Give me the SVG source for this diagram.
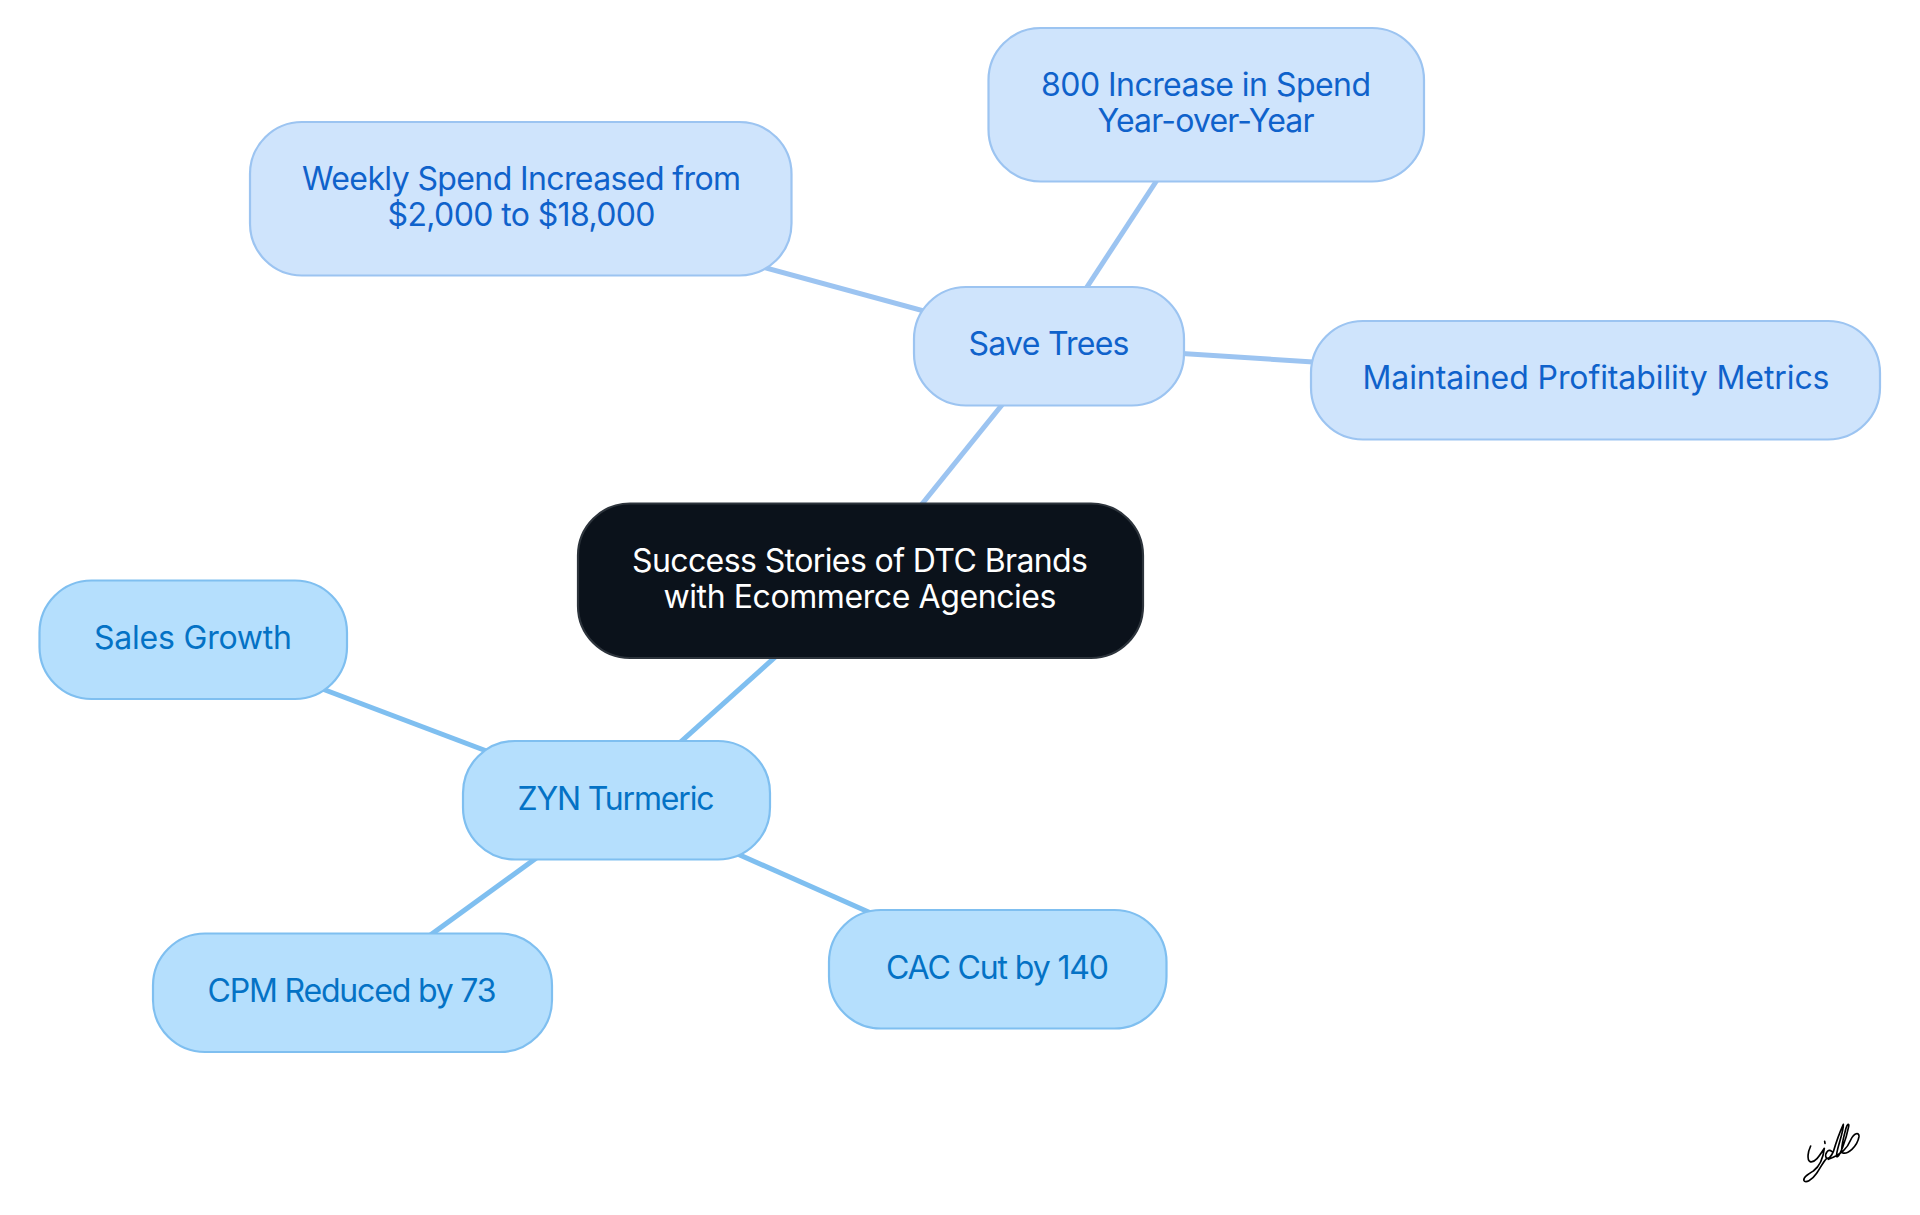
<svg xmlns="http://www.w3.org/2000/svg" width="1920" height="1215" viewBox="0 0 1920 1215">
<style>
text{font-family:"Inter","Noto Sans","Liberation Sans",sans-serif;font-size:32px;text-anchor:middle}
.a rect{fill:#cfe4fc;stroke:#9cc4f1;stroke-width:2.2}
.a text{fill:#0f62cb}
.b rect{fill:#b5dffd;stroke:#7fbff0;stroke-width:2.2}
.b text{fill:#0472c5}
#root rect{fill:#0b121b;stroke:#2d343c;stroke-width:2.2}
#root text{fill:#fff}
#connectors line{stroke-width:5}
.ca{stroke:#9cc4f1}.cb{stroke:#7fbff0}
</style>
<g id="connectors">
<line class="ca" x1="860" y1="581" x2="1030" y2="370"/>
<line class="ca" x1="1049" y1="345" x2="1180" y2="145"/>
<line class="ca" x1="1049" y1="345" x2="700" y2="250"/>
<line class="ca" x1="1049" y1="345" x2="1596" y2="380"/>
<line class="cb" x1="860" y1="581" x2="616" y2="800"/>
<line class="cb" x1="616" y1="800" x2="193" y2="640"/>
<line class="cb" x1="616" y1="800" x2="352" y2="992"/>
<line class="cb" x1="616" y1="800" x2="997" y2="969"/>
</g>
<g id="root"><rect x="578" y="503.500" width="565" height="154.500" rx="52"/><text x="860" y="571.500" textLength="456">Success Stories of DTC Brands</text><text x="860" y="607.500" textLength="393">with Ecommerce Agencies</text></g>
<g id="save-trees" class="a"><rect x="914" y="287" width="270" height="118.500" rx="52"/><text x="1049" y="354.500" textLength="161">Save Trees</text></g>
<g id="spend-yoy" class="a"><rect x="988.500" y="28" width="435.500" height="153.500" rx="52"/><text x="1206" y="95.500" textLength="330">800 Increase in Spend</text><text x="1206" y="131.500" textLength="217">Year-over-Year</text></g>
<g id="weekly" class="a"><rect x="250" y="122" width="541.500" height="153.500" rx="52"/><text x="521.500" y="189.500" textLength="439">Weekly Spend Increased from</text><text x="521.500" y="225.500" textLength="268">$2,000 to $18,000</text></g>
<g id="profit" class="a"><rect x="1311" y="321" width="569" height="118.500" rx="52"/><text x="1596" y="388.500" textLength="467">Maintained Profitability Metrics</text></g>
<g id="zyn" class="b"><rect x="463" y="741" width="307" height="118.500" rx="52"/><text x="616" y="809.500" textLength="197">ZYN Turmeric</text></g>
<g id="sales" class="b"><rect x="39.500" y="580.500" width="307.500" height="118.500" rx="52"/><text x="193" y="648.500" textLength="198">Sales Growth</text></g>
<g id="cpm" class="b"><rect x="153" y="933.500" width="399" height="118.500" rx="52"/><text x="352" y="1001.500" textLength="289">CPM Reduced by 73</text></g>
<g id="cac" class="b"><rect x="829" y="910" width="337.500" height="118.500" rx="52"/><text x="997.500" y="978.500" textLength="223">CAC Cut by 140</text></g>
<path id="signature" transform="translate(1760 1090) scale(.3333)" fill="none" stroke="#000" stroke-width="5" stroke-linecap="round" stroke-linejoin="round" d="M152 168C144 185 140 208 150 215C165 220 180 195 193 175C190 200 180 228 160 243C145 252 128 262 132 272C136 280 155 272 170 250C182 232 190 215 200 205M215 184C205 175 194 190 198 202C204 210 214 200 220 185C226 165 240 125 250 103C252 125 225 190 230 200C238 205 258 150 266 110C268 100 262 100 258 115C250 145 240 180 247 188C262 195 292 170 297 140C298 125 282 128 272 150C262 175 245 192 205 208M194 154L195 160"/>
</svg>
